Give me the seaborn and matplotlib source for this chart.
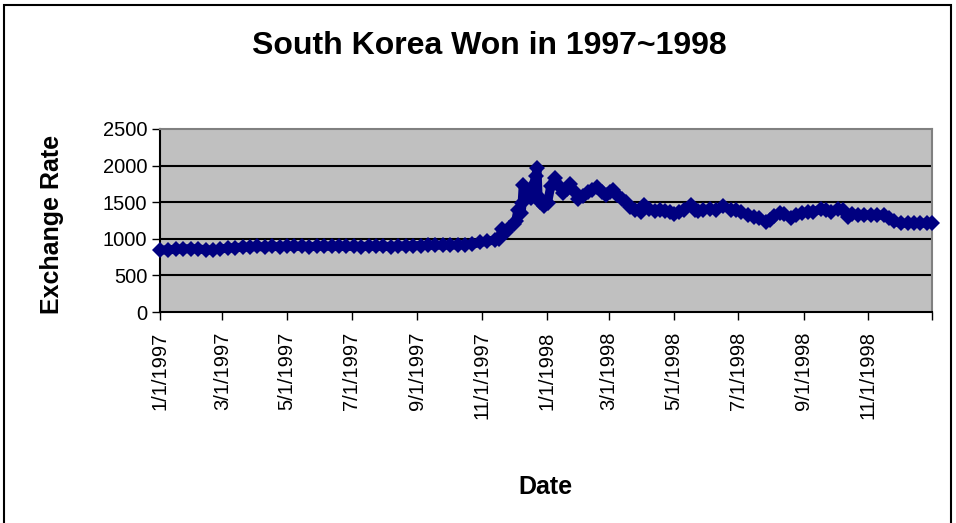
import pandas as pd
import numpy as np
import matplotlib.pyplot as plt
from matplotlib.patches import Rectangle
import seaborn as sns

# KRW per USD
dates = [
    '1997-01-01', '1997-01-09', '1997-01-16', '1997-01-23', '1997-01-30',
    '1997-02-06', '1997-02-13', '1997-02-20', '1997-02-27', '1997-03-06',
    '1997-03-13', '1997-03-20', '1997-03-27', '1997-04-03', '1997-04-10',
    '1997-04-17', '1997-04-24', '1997-05-01', '1997-05-08', '1997-05-15',
    '1997-05-22', '1997-05-29', '1997-06-05', '1997-06-12', '1997-06-19',
    '1997-06-26', '1997-07-03', '1997-07-10', '1997-07-17', '1997-07-24',
    '1997-07-31', '1997-08-07', '1997-08-14', '1997-08-21', '1997-08-28',
    '1997-09-04', '1997-09-11', '1997-09-18', '1997-09-25', '1997-10-02',
    '1997-10-09', '1997-10-16', '1997-10-23', '1997-10-30', '1997-11-06',
    '1997-11-13', '1997-11-17', '1997-11-20', '1997-11-24', '1997-11-27',
    '1997-12-01', '1997-12-03', '1997-12-05', '1997-12-08', '1997-12-09',
    '1997-12-10', '1997-12-15', '1997-12-17', '1997-12-19', '1997-12-22',
    '1997-12-23', '1997-12-24', '1997-12-26', '1997-12-30',
    '1998-01-02', '1998-01-05', '1998-01-09', '1998-01-13', '1998-01-17',
    '1998-01-20', '1998-01-23', '1998-01-27', '1998-01-31', '1998-02-04',
    '1998-02-09', '1998-02-13', '1998-02-18', '1998-02-22', '1998-02-26',
    '1998-03-02', '1998-03-05', '1998-03-09', '1998-03-13', '1998-03-17',
    '1998-03-21', '1998-03-26', '1998-03-31', '1998-04-03', '1998-04-08',
    '1998-04-13', '1998-04-18', '1998-04-23', '1998-04-28', '1998-05-01',
    '1998-05-06', '1998-05-11', '1998-05-17', '1998-05-21', '1998-05-24',
    '1998-05-29', '1998-06-04', '1998-06-10', '1998-06-17', '1998-06-24',
    '1998-06-29', '1998-07-04', '1998-07-10', '1998-07-16', '1998-07-21',
    '1998-07-27', '1998-07-31', '1998-08-04', '1998-08-09', '1998-08-13',
    '1998-08-20', '1998-08-25', '1998-08-30', '1998-09-05', '1998-09-10',
    '1998-09-17', '1998-09-22', '1998-09-27', '1998-10-03', '1998-10-08',
    '1998-10-13', '1998-10-16', '1998-10-22', '1998-10-28', '1998-11-03',
    '1998-11-09', '1998-11-16', '1998-11-20', '1998-11-25', '1998-12-02',
    '1998-12-08', '1998-12-14', '1998-12-20', '1998-12-26', '1998-12-31',
]
rates = [
    845, 850, 857, 862, 865,
    862, 850, 845, 862, 872,
    880, 885, 888, 895, 887,
    898, 892, 900, 895, 898,
    893, 897, 900, 896, 898,
    895, 897, 894, 900, 897,
    898, 893, 900, 903, 905,
    908, 910, 912, 913, 915,
    915, 918, 925, 950, 965,
    985, 1000, 1139, 1090, 1150,
    1200, 1250, 1400, 1350, 1495,
    1740, 1650, 1560, 1720, 1857,
    1965, 1580, 1500, 1444,
    1495, 1720, 1830, 1720, 1620,
    1680, 1755, 1650, 1550, 1590,
    1640, 1660, 1705, 1640, 1600,
    1640, 1660, 1600, 1540, 1500,
    1440, 1390, 1370, 1465, 1410,
    1380, 1395, 1380, 1360, 1335,
    1370, 1400, 1465, 1400, 1375,
    1400, 1405, 1395, 1445, 1400,
    1390, 1360, 1330, 1300, 1290,
    1225, 1260, 1310, 1355, 1340,
    1290, 1320, 1350, 1370, 1365,
    1410, 1390, 1370, 1410, 1390,
    1300, 1340, 1330, 1325, 1330,
    1325, 1320, 1280, 1240, 1210,
    1215, 1210, 1215, 1212, 1210,
]
tick_dates = ['1997-01-01', '1997-03-01', '1997-05-01', '1997-07-01', '1997-09-01', '1997-11-01',
              '1998-01-01', '1998-03-01', '1998-05-01', '1998-07-01', '1998-09-01', '1998-11-01']
y_ticks = [0, 500, 1000, 1500, 2000, 2500]

df = pd.DataFrame({'Date': pd.to_datetime(dates), 'Rate': rates})

sns.set_theme(style='white')
plt.rcParams['font.family'] = ['Liberation Sans', 'DejaVu Sans']
plt.rcParams['text.color'] = 'black'
plt.rcParams['xtick.color'] = 'black'
plt.rcParams['ytick.color'] = 'black'

fig = plt.figure(figsize=(9.56, 5.23), dpi=100)
ax = fig.add_axes([160 / 956, 1 - 312 / 523, 772 / 956, 183 / 523])
ax.set_facecolor('#C0C0C0')

sns.lineplot(data=df, x='Date', y='Rate', ax=ax, color='#000080', linewidth=6.5,
             marker='D', markersize=8.5, markeredgewidth=0, errorbar=None, clip_on=False, zorder=5)

ax.set_xlim(pd.Timestamp('1997-01-01'), pd.Timestamp('1998-12-31'))
ax.set_ylim(0, 2500)
ax.set_yticks(y_ticks)
ax.set_yticklabels([str(v) for v in y_ticks], fontsize=14.5)

ticks = pd.to_datetime(tick_dates)
ax.set_xticks(list(ticks) + [pd.Timestamp('1998-12-31')])
ax.set_xticklabels([f'{d.month}/{d.day}/{d.year}' for d in ticks] + [''], rotation=90, fontsize=14.5)

for v in y_ticks[1:-1]:
    ax.axhline(v, color='black', linewidth=1.5, zorder=1)

ax.tick_params(axis='x', direction='out', length=6, width=1, pad=8, colors='black', bottom=True)
ax.tick_params(axis='y', direction='out', length=6, width=1, pad=3, colors='black', left=True)
ax.spines['left'].set_color('black')
ax.spines['bottom'].set_color('black')
ax.spines['left'].set_linewidth(1.5)
ax.spines['bottom'].set_linewidth(1.5)
ax.spines['top'].set_color('#808080')
ax.spines['right'].set_color('#808080')
ax.spines['top'].set_linewidth(1.5)
ax.spines['right'].set_linewidth(1.5)
ax.set_xlabel('')
ax.set_ylabel('')

fig.text(489 / 956, 1 - 46 / 523, 'South Korea Won in 1997~1998', fontsize=23, fontweight='bold',
         color='black', ha='center', va='center')
fig.text(52 / 956, 1 - 224 / 523, 'Exchange Rate', fontsize=18, fontweight='bold', color='black',
         rotation=90, ha='center', va='center')
fig.text(545 / 956, 1 - 487 / 523, 'Date', fontsize=18, fontweight='bold', color='black',
         ha='center', va='center')

fig.patches.append(Rectangle((4 / 956, -0.05), 947 / 956, 1.05 - 5 / 523, transform=fig.transFigure,
                             fill=False, edgecolor='black', linewidth=1.5))

fig.savefig('out.png', dpi=100, facecolor='white')
